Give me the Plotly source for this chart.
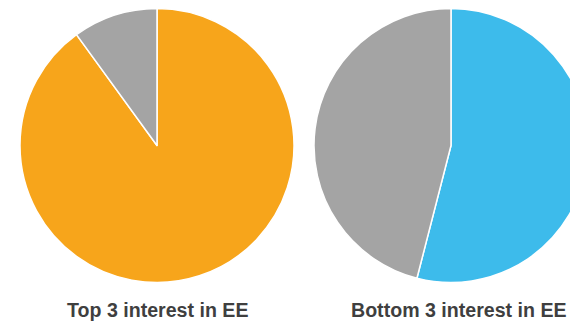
import plotly.graph_objects as go

# Data
left_labels = ["Orange", "Gray"]
left_values = [90, 10]
left_colors = ["#F7A51B", "#A4A4A4"]
left_title = "Top 3 interest in EE"

right_labels = ["Blue", "Gray"]
right_values = [54, 46]
right_colors = ["#3DBBEB", "#A4A4A4"]
right_title = "Bottom 3 interest in EE"

W, H = 610, 322

def dom(cx, cy, r):
    return dict(x=[(cx - r) / W, (cx + r) / W], y=[(H - cy - r) / H, (H - cy + r) / H])

fig = go.Figure()
fig.add_trace(go.Pie(
    labels=left_labels, values=left_values, sort=False, direction="clockwise",
    rotation=0, marker=dict(colors=left_colors, line=dict(color="white", width=1.5)),
    textinfo="none", hoverinfo="label+value", domain=dom(157, 145.5, 137), showlegend=False,
))
fig.add_trace(go.Pie(
    labels=right_labels, values=right_values, sort=False, direction="clockwise",
    rotation=0, marker=dict(colors=right_colors, line=dict(color="white", width=1.5)),
    textinfo="none", hoverinfo="label+value", domain=dom(451, 145.5, 137), showlegend=False,
))

font = dict(family="Liberation Sans, Arial, sans-serif", size=19.6, color="#3f3f3f")
fig.add_annotation(text="<b>%s</b>" % left_title, x=157 / W, y=(H - 310) / H, xref="paper", yref="paper",
                   showarrow=False, font=font, xanchor="center", yanchor="middle")
fig.add_annotation(text="<b>%s</b>" % right_title, x=459 / W, y=(H - 310) / H, xref="paper", yref="paper",
                   showarrow=False, font=font, xanchor="center", yanchor="middle")

fig.update_layout(width=W, height=H, margin=dict(l=0, r=0, t=0, b=0),
                  paper_bgcolor="white", plot_bgcolor="white")

fig.write_html("out.html", config={"displayModeBar": False},
               post_script="document.body.style.margin='0';document.body.style.overflow='hidden';document.documentElement.style.overflow='hidden';")
